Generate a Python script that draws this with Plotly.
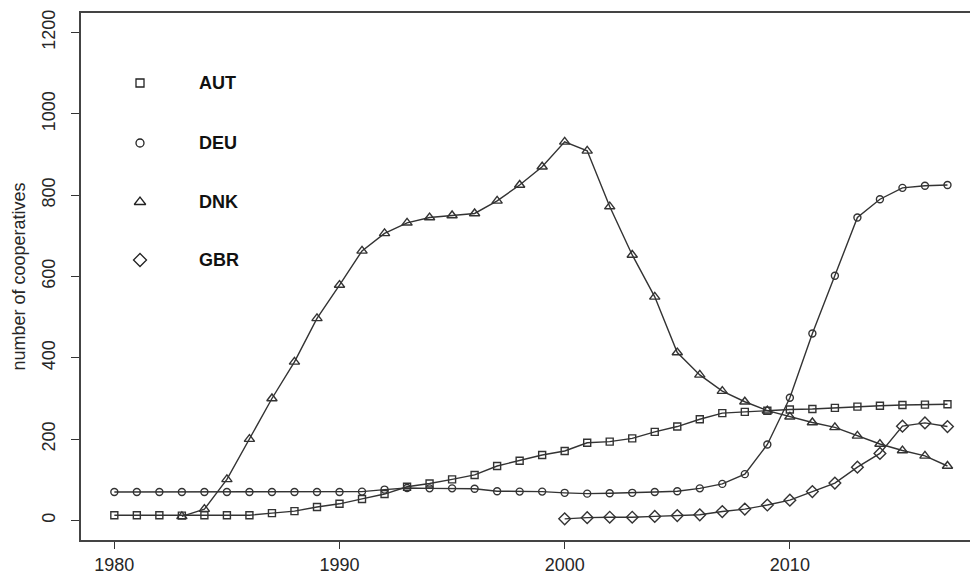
import plotly.graph_objects as go

years = list(range(1980, 2018))

aut = [13, 13, 13, 12, 13, 13, 13, 18, 23, 33, 41, 53, 65, 83, 91, 101, 112, 134, 147, 161,
       171, 191, 194, 202, 218, 231, 249, 264, 267, 270, 273, 274, 277, 280, 282, 284, 285, 286]

deu = [70, 70, 70, 70, 70, 70, 70, 70, 70, 70, 70, 71, 76, 80, 79, 79, 78, 72, 71, 71,
       68, 66, 67, 68, 70, 72, 79, 90, 114, 187, 302, 460, 602, 745, 790, 818, 823, 825]

dnk_years = list(range(1983, 2018))
dnk = [10, 28, 101, 200, 300, 390, 497, 579, 663, 706, 732, 745, 750, 755, 786, 825, 870,
       931, 909, 772, 653, 550, 413, 358, 318, 292, 270, 255, 241, 229, 208, 188, 172, 159, 134]

gbr_years = list(range(2000, 2018))
gbr = [4, 7, 8, 8, 10, 12, 14, 22, 28, 38, 50, 71, 92, 131, 165, 232, 240, 231]

series_names = ["AUT", "DEU", "DNK", "GBR"]
symbols = ["square-open", "circle-open", "triangle-up-open", "diamond-open"]
msizes = [7, 7, 9, 9]

y_ticks = [0, 200, 400, 600, 800, 1000, 1200]
x_ticks = [1980, 1990, 2000, 2010]

LINE = "#333333"
TXT = "#262626"
FONT = "Liberation Sans, Arial"

fig = go.Figure()
data = [(years, aut), (years, deu), (dnk_years, dnk), (gbr_years, gbr)]
for (xs, ys), name, sym, ms in zip(data, series_names, symbols, msizes):
    fig.add_trace(go.Scatter(
        x=xs, y=ys, mode="lines+markers", name=name,
        line=dict(color=LINE, width=1.4),
        marker=dict(symbol=sym, size=ms, color=LINE, line=dict(color=LINE, width=1.4)),
        showlegend=False, hoverinfo="skip"))

# legend (drawn inside the plot on an overlay pixel axis)
leg_x = 59
leg_y = [83, 143, 202, 260]
for name, sym, ly, ms in zip(series_names, symbols, leg_y, [8, 8, 10, 10]):
    fig.add_trace(go.Scatter(
        x=[leg_x], y=[ly], mode="markers", xaxis="x2", yaxis="y2",
        marker=dict(symbol=sym, size=ms, color="#222", line=dict(color="#222", width=1.3)),
        showlegend=False, hoverinfo="skip"))
    fig.add_annotation(x=116, y=ly, xref="x2", yref="y2", text="<b>%s</b>" % name,
                       showarrow=False, xanchor="left", yanchor="middle",
                       font=dict(family=FONT, size=18, color="#111"))

fig.add_annotation(xref="paper", yref="paper", x=0, y=0.5, xshift=-63,
                   text="number of cooperatives", textangle=-90, showarrow=False,
                   xanchor="center", yanchor="middle",
                   font=dict(family=FONT, size=18, color=TXT))

fig.update_layout(
    width=970, height=573,
    margin=dict(l=81, r=0, t=13, b=33),
    paper_bgcolor="white", plot_bgcolor="white",
    font=dict(family=FONT, size=18, color=TXT),
    xaxis=dict(range=[1978.52, 2018.0], tickvals=x_ticks, ticks="outside", ticklen=7,
               tickwidth=1.3, tickcolor=LINE, showgrid=False, zeroline=False,
               showline=True, linecolor="#444", linewidth=1.8, mirror=True,
               automargin=False, tickfont=dict(size=18, color=TXT)),
    yaxis=dict(range=[-48, 1248], tickvals=y_ticks, ticks="outside", ticklen=8,
               tickwidth=1.3, tickcolor=LINE, showgrid=False, zeroline=False,
               showline=True, linecolor="#444", linewidth=1.8, tickangle=-90,
               automargin=False, ticklabelstandoff=9, tickfont=dict(size=18, color=TXT)),
    xaxis2=dict(overlaying="x", range=[0, 889], visible=False),
    yaxis2=dict(overlaying="y", range=[540, 13], visible=False),
)

fig.write_html("out.html", config={"displayModeBar": False},
               post_script="document.body.style.margin='0';")
